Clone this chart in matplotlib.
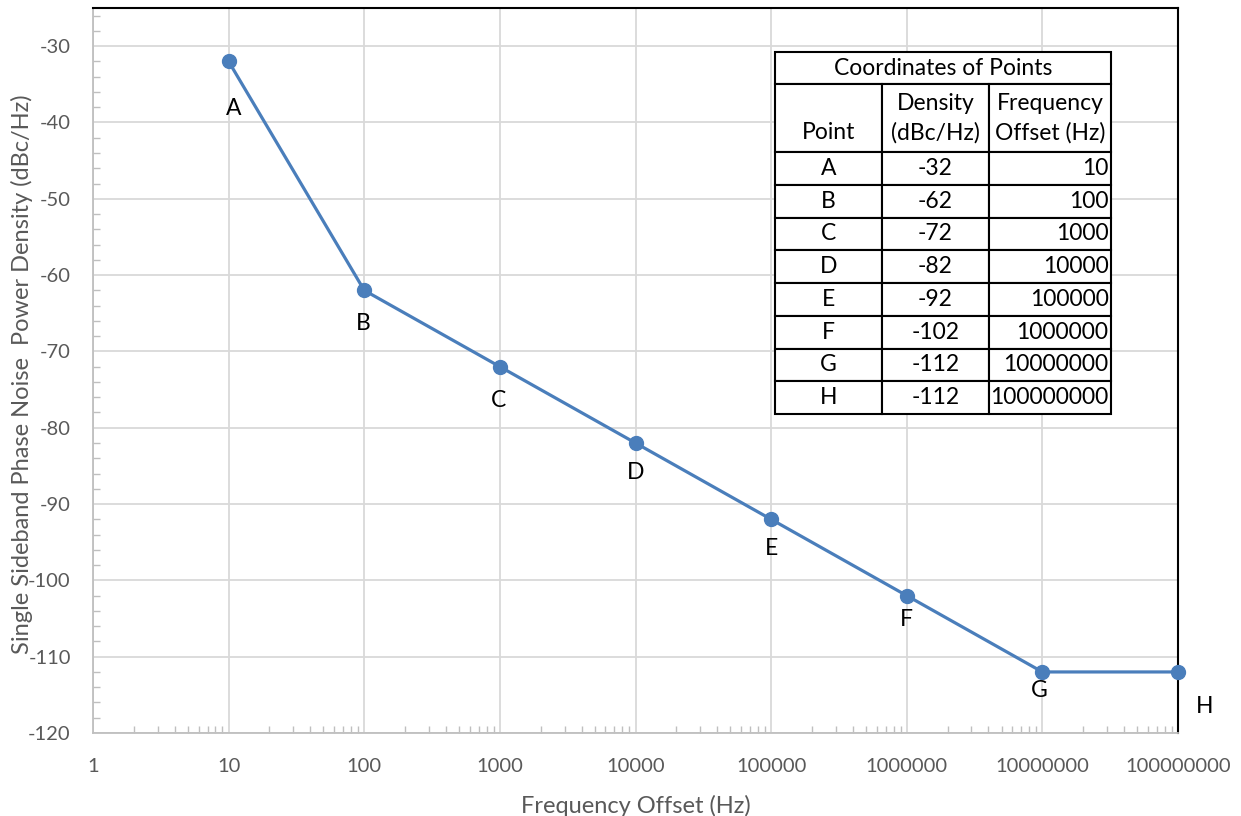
import numpy as np
import matplotlib.pyplot as plt
from matplotlib.table import Table
from matplotlib.ticker import FixedLocator, NullFormatter, LogLocator

plt.rcParams['font.family'] = ['Lato', 'DejaVu Sans']
plt.rcParams['axes.unicode_minus'] = False

# data
points = ['A', 'B', 'C', 'D', 'E', 'F', 'G', 'H']
freq = [10, 100, 1000, 10000, 100000, 1000000, 10000000, 100000000]
density = [-32, -62, -72, -82, -92, -102, -112, -112]

# label offsets (points) for the letters next to each marker
lab_dx = [3.5, -1, -1, 0, 0.5, 0, -2, 19]
lab_dy = [-34, -24, -24, -21, -21, -17, -13, -25]

grey = '#595959'
blue = '#4A7EBB'

fig = plt.figure(figsize=(12.41, 8.16), dpi=100)
ax = fig.add_axes([93/1241, 1-733/816, (1178-93)/1241, (733-8)/816])

ax.plot(freq, density, color=blue, lw=2.3, marker='o', ms=10, zorder=3,
        clip_on=False)
for p, x, y, dx, dy in zip(points, freq, density, lab_dx, lab_dy):
    ax.annotate(p, (x, y), xytext=(dx, dy), textcoords='offset points',
                ha='center', va='center', fontsize=16.5, color='black')

ax.set_xscale('log')
ax.set_xlim(1, 1e8)
ax.set_ylim(-120, -25)

xt = [10**i for i in range(9)]
ax.set_xticks(xt)
ax.set_xticklabels([str(v) for v in xt])
ax.xaxis.set_minor_locator(LogLocator(base=10, subs=np.arange(2, 10), numticks=100))
ax.xaxis.set_minor_formatter(NullFormatter())
ax.set_yticks(np.arange(-120, -29, 10))
ax.yaxis.set_minor_locator(FixedLocator(np.arange(-120, -25, 2)))

ax.grid(True, which='major', color='#D9D9D9', lw=1.3)
ax.set_axisbelow(True)
ax.tick_params(which='major', length=0, pad=16, labelsize=14.5, labelcolor=grey)
ax.tick_params(which='minor', direction='in', length=5, color='#BFBFBF', width=1)
ax.tick_params(axis='x', which='major', pad=18)

for s in ['left', 'bottom']:
    ax.spines[s].set_color('#BFBFBF')
    ax.spines[s].set_linewidth(1.3)
for s in ['top', 'right']:
    ax.spines[s].set_color('black')
    ax.spines[s].set_linewidth(1.5)

ax.set_xlabel('Frequency Offset (Hz)', fontsize=17, color=grey, labelpad=14)
ax.set_ylabel('Single Sideband Phase Noise  Power Density (dBc/Hz)',
              fontsize=17, color=grey)
ax.yaxis.set_label_coords((33-93)/1085, 0.495)

# table of coordinates
x0 = (775-93)/1085
x1 = (1111-93)/1085
ytop = (733-52)/725
ymid = (733-84)/725
ybot = (733-414)/725

title_tab = Table(ax, bbox=[x0, ymid, x1-x0, ytop-ymid])
title_tab.auto_set_font_size(False)
c = title_tab.add_cell(0, 0, 1, 1, text='Coordinates of Points', loc='center')
c.set_linewidth(1.5)
c.get_text().set_fontsize(16.5)
title_tab.set_zorder(6)
ax.add_table(title_tab)

col_w = [107, 107, 122]
headers = ['\nPoint', 'Density\n(dBc/Hz)', 'Frequency\nOffset (Hz)']
tab = Table(ax, bbox=[x0, ybot, x1-x0, ymid-ybot])
tab.auto_set_font_size(False)
for j, h in enumerate(headers):
    cell = tab.add_cell(0, j, col_w[j], 68, text=h, loc='center')
for i in range(len(points)):
    row = [points[i], str(density[i]), str(freq[i])]
    for j, t in enumerate(row):
        cell = tab.add_cell(i+1, j, col_w[j], 32.75, text=t,
                            loc='right' if j == 2 else 'center')
        if j == 2:
            cell.PAD = 0.02
for cell in tab.get_celld().values():
    cell.set_linewidth(1.5)
    cell.get_text().set_fontsize(16.5)
    cell.get_text().set_linespacing(1.45)
tab.set_zorder(6)
ax.add_table(tab)

fig.savefig('out.png', dpi=100)
